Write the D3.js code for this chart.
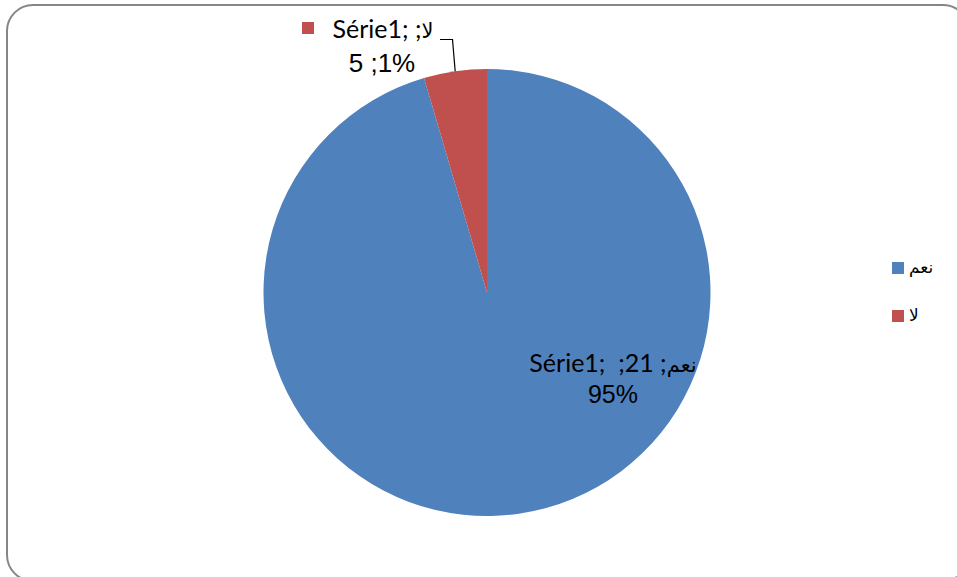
<!DOCTYPE html>
<html>
<head>
<meta charset="utf-8">
<script src="https://cdn.jsdelivr.net/npm/d3@7"></script>
<style>
  html, body { margin: 0; padding: 0; background: #ffffff; }
  svg { display: block; }
</style>
</head>
<body>
<div id="chart"></div>
<script>
// Survey answers: yes / no
const seriesName = "Série1";
const categories = ["نعم", "لا"];
const values = [21, 1];
const colors = ["#4F81BD", "#C0504D"];

const W = 957, H = 577;
const cx = 487, cy = 292.5, radius = 223.5;

const total = d3.sum(values);
const pct = values.map(v => Math.round(v / total * 100));

const svg = d3.select("#chart").append("svg")
  .attr("width", W).attr("height", H);

// Chart area frame with rounded corners
svg.append("rect")
  .attr("x", 7).attr("y", 5)
  .attr("width", 962).attr("height", 576)
  .attr("rx", 26).attr("ry", 26)
  .attr("fill", "#ffffff")
  .attr("stroke", "#868686")
  .attr("stroke-width", 2);

const pie = d3.pie().sort(null).value(d => d.value);
const arc = d3.arc().innerRadius(0).outerRadius(radius);
const data = categories.map((c, i) => ({ name: c, value: values[i], pct: pct[i], color: colors[i] }));
const arcs = pie(data);

const g = svg.append("g").attr("transform", `translate(${cx},${cy})`);
g.selectAll("path.slice")
  .data(arcs)
  .join("path")
  .attr("class", "slice")
  .attr("d", arc)
  .attr("fill", d => d.data.color);

// Fonts for the data labels
const latinFont = { family: "Lato, 'DejaVu Sans', sans-serif", size: 25 };
const arabicFont = { family: "'DejaVu Sans', sans-serif", size: 21 };
const numberFont = { family: "'Liberation Sans', Arial, sans-serif", size: 26 };

// Draws one label line made of separately shaped runs, laid out left to right
// and centred on x, so that latin and Arabic runs keep their order.
function drawLine(parent, x, y, runs) {
  const grp = parent.append("g");
  const nodes = runs.map(r => grp.append("text")
    .attr("y", y)
    .attr("font-family", r.font.family)
    .attr("font-size", r.font.size)
    .attr("fill", "#000")
    .attr("direction", r.rtl ? "rtl" : "ltr")
    .attr("text-anchor", "start")
    .style("white-space", "pre")
    .text(r.text));
  const widths = nodes.map(n => n.node().getComputedTextLength());
  const totalW = d3.sum(widths);
  let cur = x - totalW / 2;
  nodes.forEach((n, i) => {
    if (runs[i].rtl) {
      n.attr("x", cur + widths[i]);
    } else {
      n.attr("x", cur);
    }
    cur += widths[i];
  });
  return { left: x - totalW / 2, right: x + totalW / 2 };
}

// "نعم" label, inside the large slice
const yes = arcs[0].data;
drawLine(svg, 613, 372, [
  { text: `${seriesName};  ;${yes.value} ;`, font: latinFont },
  { text: yes.name, font: arabicFont, rtl: true }
]);
drawLine(svg, 613, 403, [
  { text: `${yes.pct}%`, font: { family: numberFont.family, size: 25 } }
]);

// "لا" label, outside the small slice with a key and a leader line
const no = arcs[1].data;
drawLine(svg, 383, 38, [
  { text: `${seriesName}; ;`, font: latinFont },
  { text: no.name, font: arabicFont, rtl: true }
]);
svg.append("rect")
  .attr("x", 302).attr("y", 22)
  .attr("width", 12).attr("height", 12)
  .attr("fill", no.color);
drawLine(svg, 382, 72, [
  { text: `${no.pct} ;${no.value}%`, font: numberFont }
]);

// Leader line from the label to the slice edge
const noMid = (arcs[1].startAngle + arcs[1].endAngle) / 2;
const edgeX = cx + radius * Math.sin(noMid);
const edgeY = cy - radius * Math.cos(noMid);
svg.append("path")
  .attr("d", d3.line()([[440, 39.5], [452.5, 39.5], [edgeX, edgeY]]))
  .attr("fill", "none")
  .attr("stroke", "#000")
  .attr("stroke-width", 1.2);

// Legend
const legend = svg.append("g").attr("transform", "translate(892,262)");
const items = legend.selectAll("g.item")
  .data(data)
  .join("g")
  .attr("class", "item")
  .attr("transform", (d, i) => `translate(0,${i * 48})`);
items.append("rect")
  .attr("width", 12).attr("height", 12)
  .attr("fill", d => d.color);
items.append("text")
  .attr("x", 17).attr("y", 11)
  .attr("font-family", "'DejaVu Sans', sans-serif")
  .attr("font-size", 17)
  .attr("fill", "#000")
  .text(d => d.name);
</script>
</body>
</html>
